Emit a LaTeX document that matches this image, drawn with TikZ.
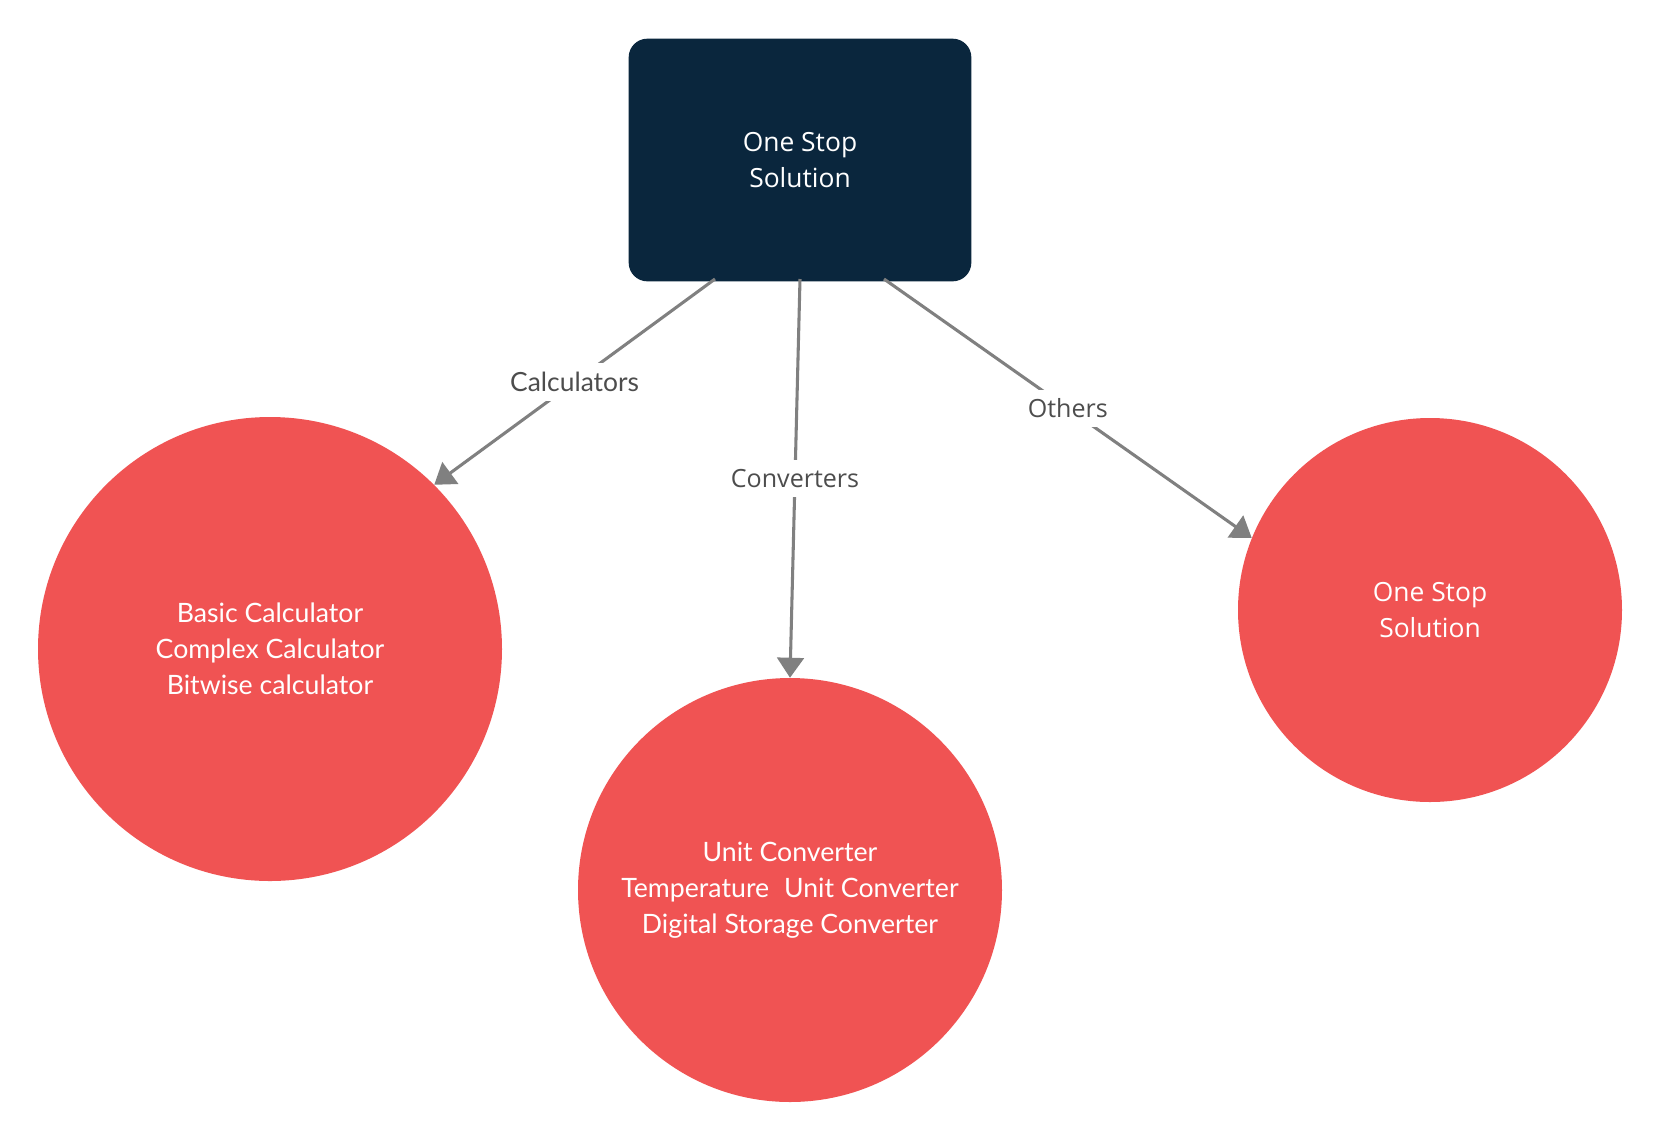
\documentclass[tikz,border=0pt]{standalone}
\usepackage{fontspec}
\setmainfont{Lato}
\newfontfamily\opensans{Open Sans}
\usetikzlibrary{arrows.meta}
\definecolor{navy}{HTML}{0A263D}
\definecolor{coral}{HTML}{F05353}
\definecolor{edgegray}{HTML}{808080}
\definecolor{labelgray}{HTML}{4D4D4D}
\tikzset{
  topbox/.style={fill=navy, rounded corners=14pt, minimum width=257pt, minimum height=182pt, inner sep=0pt, text=white, font=\opensans\fontsize{19.8}{27}\selectfont, align=center},
  bubble/.style={circle, fill=coral, inner sep=0pt, text=white, font=\fontsize{20}{27}\selectfont, align=center},
  conn/.style={draw=edgegray, line width=2.3pt, -{Triangle[length=15pt,width=20pt]}},
  elabel/.style={fill=white, text=labelgray, inner xsep=4pt, inner ysep=7pt, font=\fontsize{19.8}{22}\selectfont},
}
\begin{document}
\begin{tikzpicture}[x=0.75pt, y=-0.75pt]
\useasboundingbox (0,0) rectangle (1661,1140);
\fill[white] (0,0) rectangle (1661,1140);
\node[topbox] (top) at (800,160) {One Stop\\Solution};
\node[bubble, minimum size=348pt] (L) at (270,649) {Basic Calculator\\Complex Calculator\\Bitwise calculator};
\node[bubble, minimum size=318pt] (M) at (790,890) {Unit Converter\\Temperature\hspace{0.3em} Unit Converter\\Digital Storage Converter};
\node[bubble, minimum size=288pt, font=\opensans\fontsize{19.8}{27}\selectfont] (R) at (1430,610) {One Stop\\Solution};
\coordinate (s1) at (715,279);
\coordinate (s2) at (800,279);
\coordinate (s3) at (884,279);
\draw[conn] (s1) -- node[elabel] {Calculators} (L.45);
\draw[conn] (s2) -- node[elabel, font=\opensans\fontsize{18.8}{21}\selectfont] {Converters} (M.90);
\draw[conn] (s3) -- node[elabel, font=\opensans\fontsize{18.8}{21}\selectfont] {Others} (R.158);
\end{tikzpicture}
\end{document}
